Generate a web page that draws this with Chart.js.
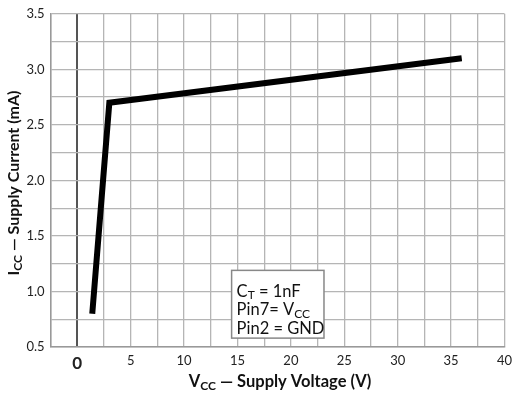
<!DOCTYPE html>
<html>
<head>
<meta charset="utf-8">
<script src="https://cdn.jsdelivr.net/npm/chart.js@4.4.1/dist/chart.umd.min.js"></script>
<style>
  body { margin: 0; background: #fff; }
  #wrap { width: 518px; height: 401px; position: relative; }
</style>
</head>
<body>
<div id="wrap"><canvas id="iccChart"></canvas></div>
<script>
// Supply current vs supply voltage
const voltage = [1.4, 3.0, 36.0];   // V
const current = [0.8, 2.7, 3.1];    // mA

const xTicks = [0, 5, 10, 15, 20, 25, 30, 35, 40];
const yTicks = [0.5, 1.0, 1.5, 2.0, 2.5, 3.0, 3.5];

const noteLines = [
    [['C', false], ['T', true], [' = 1nF', false]],
    [['Pin7= V', false], ['CC', true]],
    [['Pin2 = GND', false]]
];

const FONT = "Lato, 'DejaVu Sans', sans-serif";

// draw text with subscript pieces
function drawParts(ctx, parts, x, y, size, weight, align) {
    let subSize = Math.round(size * 0.75);
    let total = 0;
    parts.forEach(p => {
        ctx.font = weight + ' ' + (p[1] ? subSize : size) + 'px ' + FONT;
        total += ctx.measureText(p[0]).width;
    });
    let cx = align === 'center' ? x - total / 2 : x;
    ctx.textAlign = 'left';
    ctx.textBaseline = 'middle';
    parts.forEach(p => {
        ctx.font = weight + ' ' + (p[1] ? subSize : size) + 'px ' + FONT;
        ctx.fillText(p[0], cx, p[1] ? y + size * 0.25 : y);
        cx += ctx.measureText(p[0]).width;
    });
}

const annotations = {
    id: 'annotations',
    afterDraw: function (chart) {
        let ctx = chart.ctx;
        let xs = chart.scales.x, ys = chart.scales.y;
        ctx.save();
        ctx.fillStyle = '#111';

        // x title
        drawParts(ctx, [['V', false], ['CC', true], [' \u2014 Supply Voltage (V)', false]],
            280, 382, 16.5, 'bold', 'center');

        // y title (rotated)
        ctx.save();
        ctx.translate(14, 183);
        ctx.rotate(-Math.PI / 2);
        drawParts(ctx, [['I', false], ['CC', true], [' \u2014 Supply Current (mA)', false]],
            0, 0, 16, 'bold', 'center');
        ctx.restore();

        // condition box
        let bx = xs.getPixelForValue(14.45), bx2 = xs.getPixelForValue(23.1);
        let by = ys.getPixelForValue(1.19), by2 = ys.getPixelForValue(0.58);
        ctx.fillStyle = '#fff';
        ctx.fillRect(bx, by, bx2 - bx, by2 - by);
        ctx.strokeStyle = '#888';
        ctx.lineWidth = 1.5;
        ctx.strokeRect(bx, by, bx2 - bx, by2 - by);
        ctx.fillStyle = '#111';
        noteLines.forEach((line, i) => {
            drawParts(ctx, line, bx + 5, by + 21 + i * 18.5, 16.5, 'normal', 'left');
        });
        ctx.restore();
    }
};

new Chart(document.getElementById('iccChart'), {
    type: 'scatter',
    data: {
        datasets: [{
            data: voltage.map((v, i) => ({ x: v, y: current[i] })),
            showLine: true,
            borderColor: '#000',
            borderWidth: 6,
            borderJoinStyle: 'miter',
            borderCapStyle: 'butt',
            pointRadius: 0,
            tension: 0,
            fill: false
        }]
    },
    options: {
        responsive: true,
        maintainAspectRatio: false,
        animation: false,
        layout: { padding: { left: 0, right: 9, top: 8, bottom: 0 } },
        plugins: {
            legend: { display: false },
            tooltip: { enabled: false }
        },
        scales: {
            x: {
                type: 'linear',
                min: -2.5,
                max: 40,
                afterFit: function (scale) { scale.height = 54; },
                ticks: {
                    stepSize: 2.5,
                    autoSkip: false,
                    maxRotation: 0,
                    padding: 6,
                    color: '#222',
                    font: function (c) {
                        if (c.tick && c.tick.value === 0) return { family: FONT, size: 17, weight: 'bold' };
                        return { family: FONT, size: 13 };
                    },
                    callback: function (v) { return xTicks.includes(v) ? String(v) : ''; }
                },
                grid: {
                    drawTicks: false,
                    color: function (c) { return c.tick && c.tick.value === 0 ? '#555' : '#b5b5b5'; },
                    lineWidth: function (c) { return c.tick && c.tick.value === 0 ? 2 : 1.3; }
                },
                border: { color: '#999', width: 1.5 }
            },
            y: {
                type: 'linear',
                min: 0.5,
                max: 3.5,
                afterFit: function (scale) { scale.width = 50.6; },
                ticks: {
                    stepSize: 0.25,
                    autoSkip: false,
                    padding: 6,
                    color: '#222',
                    font: { family: FONT, size: 13 },
                    callback: function (v) { return yTicks.includes(v) ? v.toFixed(1) : ''; }
                },
                grid: {
                    drawTicks: false,
                    color: '#b5b5b5',
                    lineWidth: 1.3
                },
                border: { color: '#999', width: 1.5 }
            }
        }
    },
    plugins: [annotations]
});
</script>
</body>
</html>
